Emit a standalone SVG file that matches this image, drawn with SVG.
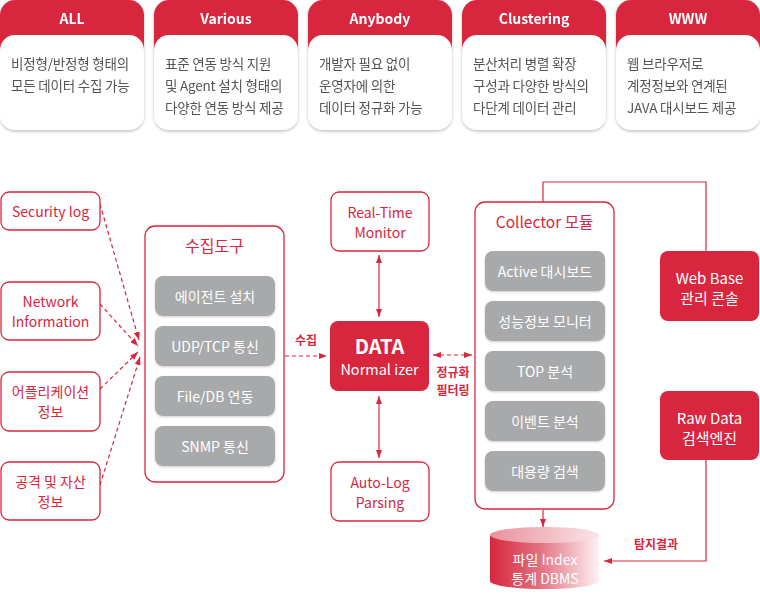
<svg xmlns="http://www.w3.org/2000/svg" width="760" height="596" viewBox="0 0 760 596">
<defs>
<style>
text{font-family:"Noto Sans CJK KR","Noto Sans",sans-serif;dominant-baseline:central;text-anchor:middle}
.hd{fill:#fff;font-size:14px;font-weight:bold}
.bd{fill:#555;font-size:13.5px;text-anchor:start;letter-spacing:-0.2px}
.src{fill:#fff;stroke:#d7263d;stroke-width:1.3}
.rt{fill:#d7263d;font-size:14px}
.gb{fill:#a8a9ab}
.gt{fill:#fff;font-size:14px}
.rf{fill:#d7263d}
.wt{fill:#fff;font-size:15px}
.lbl{fill:#d7263d;font-size:12px;font-weight:bold}
.dash{stroke:#d7263d;stroke-width:1.2;stroke-dasharray:4 3;fill:none}
.sol{stroke:#d7263d;stroke-width:1.2;fill:none}
</style>
<filter id="sh" x="-10%" y="-10%" width="120%" height="130%">
<feDropShadow dx="0" dy="1.5" stdDeviation="1.5" flood-color="#000" flood-opacity="0.25"/>
</filter>
<filter id="sh2" x="-10%" y="-10%" width="120%" height="130%">
<feDropShadow dx="0" dy="1" stdDeviation="1" flood-color="#000" flood-opacity="0.2"/>
</filter>
<marker id="ar" viewBox="0 0 8 6" refX="8" refY="3" markerWidth="8" markerHeight="6" orient="auto-start-reverse" markerUnits="userSpaceOnUse">
<path d="M0,0 L8,3 L0,6 z" fill="#d7263d"/>
</marker>
<linearGradient id="cyl" x1="0" y1="0" x2="1" y2="0">
<stop offset="0" stop-color="#d7263d"/>
<stop offset="0.45" stop-color="#e2707f"/>
<stop offset="1" stop-color="#fdf1f3"/>
</linearGradient>
<linearGradient id="cyltop" x1="0" y1="0" x2="1" y2="0">
<stop offset="0" stop-color="#e8919c"/>
<stop offset="1" stop-color="#fbe3e7"/>
</linearGradient>
</defs>

<g id="card-all" filter="url(#sh)">
<path d="M0,50 V15 A15,15 0 0 1 15,0 H129 A15,15 0 0 1 144,15 V50 Z" class="rf"/>
<rect x="0" y="35" width="144" height="95" rx="15" fill="#fff"/>
<text x="72" y="18" class="hd">ALL</text>
<text x="11" y="63" class="bd">비정형/반정형 형태의</text>
<text x="11" y="85" class="bd">모든 데이터 수집 가능</text>
</g>
<g id="card-various" filter="url(#sh)">
<path d="M154,50 V15 A15,15 0 0 1 169,0 H283 A15,15 0 0 1 298,15 V50 Z" class="rf"/>
<rect x="154" y="35" width="144" height="95" rx="15" fill="#fff"/>
<text x="226" y="18" class="hd">Various</text>
<text x="165" y="63" class="bd">표준 연동 방식 지원</text>
<text x="165" y="85" class="bd">및 Agent 설치 형태의</text>
<text x="165" y="107" class="bd">다양한 연동 방식 제공</text>
</g>
<g id="card-anybody" filter="url(#sh)">
<path d="M308,50 V15 A15,15 0 0 1 323,0 H437 A15,15 0 0 1 452,15 V50 Z" class="rf"/>
<rect x="308" y="35" width="144" height="95" rx="15" fill="#fff"/>
<text x="380" y="18" class="hd">Anybody</text>
<text x="319" y="63" class="bd">개발자 필요 없이</text>
<text x="319" y="85" class="bd">운영자에 의한</text>
<text x="319" y="107" class="bd">데이터 정규화 가능</text>
</g>
<g id="card-clustering" filter="url(#sh)">
<path d="M462,50 V15 A15,15 0 0 1 477,0 H591 A15,15 0 0 1 606,15 V50 Z" class="rf"/>
<rect x="462" y="35" width="144" height="95" rx="15" fill="#fff"/>
<text x="534" y="18" class="hd">Clustering</text>
<text x="473" y="63" class="bd">분산처리 병렬 확장</text>
<text x="473" y="85" class="bd">구성과 다양한 방식의</text>
<text x="473" y="107" class="bd">다단계 데이터 관리</text>
</g>
<g id="card-www" filter="url(#sh)">
<path d="M616,50 V15 A15,15 0 0 1 631,0 H745 A15,15 0 0 1 760,15 V50 Z" class="rf"/>
<rect x="616" y="35" width="144" height="95" rx="15" fill="#fff"/>
<text x="688" y="18" class="hd">WWW</text>
<text x="627" y="63" class="bd">웹 브라우저로</text>
<text x="627" y="85" class="bd">계정정보와 연계된</text>
<text x="627" y="107" class="bd">JAVA 대시보드 제공</text>
</g>

<g id="connectors">
<line x1="100" y1="204" x2="139" y2="340" class="dash" marker-end="url(#ar)"/>
<line x1="100" y1="304" x2="138" y2="346" class="dash" marker-end="url(#ar)"/>
<line x1="100" y1="389" x2="138" y2="352" class="dash" marker-end="url(#ar)"/>
<line x1="100" y1="485" x2="140" y2="357" class="dash" marker-end="url(#ar)"/>
<line x1="285" y1="356" x2="327" y2="356" class="dash" marker-end="url(#ar)"/>
<line x1="379" y1="255" x2="379" y2="317" class="sol" marker-start="url(#ar)" marker-end="url(#ar)"/>
<line x1="379" y1="396" x2="379" y2="458" class="sol" marker-start="url(#ar)" marker-end="url(#ar)"/>
<line x1="433" y1="355" x2="472" y2="355" class="dash" marker-start="url(#ar)" marker-end="url(#ar)"/>
<polyline points="543,202 543,182 706,182 706,251" class="sol"/>
<line x1="543" y1="510" x2="543" y2="527" class="sol" marker-end="url(#ar)"/>
<polyline points="706,460 706,561 604,561" class="sol" marker-end="url(#ar)"/>
<text x="306" y="339" class="lbl">수집</text>
<text x="453" y="371" class="lbl">정규화</text>
<text x="453" y="389" class="lbl">필터링</text>
<text x="656" y="543" class="lbl">탐지결과</text>
</g>

<g id="security-log">
<rect x="1" y="192" width="99" height="38" rx="8" class="src"/>
<text x="50.5" y="211" class="rt">Security log</text>
</g>
<g id="network-information">
<rect x="1" y="282" width="99" height="58" rx="8" class="src"/>
<text x="50.5" y="301" class="rt">Network</text>
<text x="50.5" y="321" class="rt">Information</text>
</g>
<g id="application-info">
<rect x="1" y="372" width="99" height="59" rx="8" class="src"/>
<text x="50.5" y="391" class="rt">어플리케이션</text>
<text x="50.5" y="411" class="rt">정보</text>
</g>
<g id="attack-asset-info">
<rect x="1" y="462" width="99" height="58" rx="8" class="src"/>
<text x="50.5" y="481" class="rt">공격 및 자산</text>
<text x="50.5" y="501" class="rt">정보</text>
</g>

<g id="collection-tool">
<rect x="145" y="226" width="139" height="256" rx="10" class="src"/>
<text x="214.5" y="245" class="rt" style="font-size:16px">수집도구</text>
<g filter="url(#sh2)">
<rect x="155" y="276" width="120" height="40" rx="8" class="gb"/>
<rect x="155" y="326" width="120" height="40" rx="8" class="gb"/>
<rect x="155" y="376" width="120" height="40" rx="8" class="gb"/>
<rect x="155" y="426" width="120" height="40" rx="8" class="gb"/>
</g>
<text x="215" y="296" class="gt">에이전트 설치</text>
<text x="215" y="346" class="gt">UDP/TCP 통신</text>
<text x="215" y="396" class="gt">File/DB 연동</text>
<text x="215" y="446" class="gt">SNMP 통신</text>
</g>

<g id="realtime-monitor">
<rect x="331" y="192" width="98" height="59" rx="8" class="src"/>
<text x="380" y="212" class="rt">Real-Time</text>
<text x="380" y="232" class="rt">Monitor</text>
</g>
<g id="data-normalizer">
<rect x="330" y="321" width="99" height="70" rx="8" class="rf"/>
<text x="379.5" y="345" fill="#fff" style="font-size:20px;font-weight:bold">DATA</text>
<text x="379.5" y="368" fill="#fff" style="font-size:14.5px">Normal izer</text>
</g>
<g id="autolog-parsing">
<rect x="331" y="462" width="98" height="59" rx="8" class="src"/>
<text x="380" y="482" class="rt">Auto-Log</text>
<text x="380" y="502" class="rt">Parsing</text>
</g>

<g id="collector-module">
<rect x="475" y="202" width="139" height="307" rx="10" class="src"/>
<text x="544.5" y="221" class="rt" style="font-size:15.5px">Collector 모듈</text>
<g filter="url(#sh2)">
<rect x="485" y="251" width="120" height="40" rx="8" class="gb"/>
<rect x="485" y="301" width="120" height="40" rx="8" class="gb"/>
<rect x="485" y="351" width="120" height="40" rx="8" class="gb"/>
<rect x="485" y="401" width="120" height="40" rx="8" class="gb"/>
<rect x="485" y="451" width="120" height="40" rx="8" class="gb"/>
</g>
<text x="545" y="271" class="gt">Active 대시보드</text>
<text x="545" y="321" class="gt">성능정보 모니터</text>
<text x="545" y="371" class="gt">TOP 분석</text>
<text x="545" y="421" class="gt">이벤트 분석</text>
<text x="545" y="471" class="gt">대용량 검색</text>
</g>

<g id="web-base-console">
<rect x="660" y="251" width="99" height="70" rx="8" class="rf"/>
<text x="709.5" y="277" class="wt">Web Base</text>
<text x="709.5" y="297" class="wt">관리 콘솔</text>
</g>
<g id="raw-data-engine">
<rect x="660" y="391" width="99" height="69" rx="8" class="rf"/>
<text x="709.5" y="417" class="wt">Raw Data</text>
<text x="709.5" y="437" class="wt">검색엔진</text>
</g>

<g id="file-index-dbms">
<path d="M490,535 V581 A54.5,8 0 0 0 599,581 V535 Z" fill="url(#cyl)"/>
<ellipse cx="544.5" cy="535" rx="54.5" ry="8" fill="url(#cyltop)"/>
<text x="545" y="559" fill="#fff" style="font-size:14px">파일 Index</text>
<text x="545" y="578" fill="#fff" style="font-size:14px">통계 DBMS</text>
</g>
</svg>
